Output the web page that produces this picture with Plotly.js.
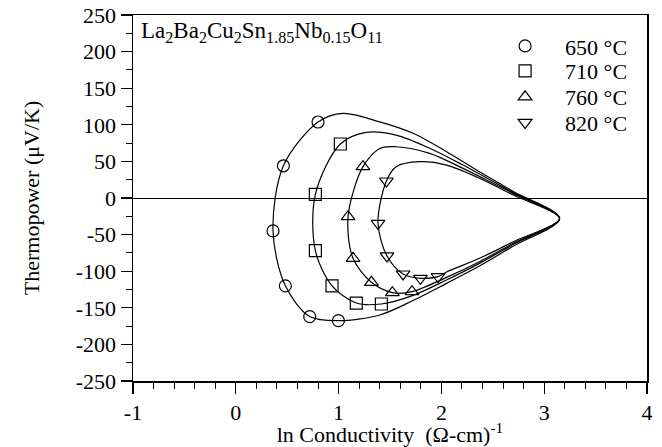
<!DOCTYPE html>
<html>
<head>
<meta charset="utf-8">
<script src="https://cdn.plot.ly/plotly-3.0.1.min.js"></script>
<style>html,body{margin:0;padding:0;background:#fff;}#chart{width:662px;height:447px;}</style>
</head>
<body>
<div id="chart"></div>
<script>
// Measured data points
const seriesNames = ["650 °C", "710 °C", "760 °C", "820 °C"];
const x650 = [0.80, 0.463, 0.362, 0.482, 0.719, 0.998];
const y650 = [103.8, 44, -45, -120, -162, -167.6];
const x710 = [1.017, 0.774, 0.774, 0.936, 1.172, 1.416];
const y710 = [73.8, 5, -72, -120, -143.5, -144.8];
const x760 = [1.237, 1.092, 1.14, 1.319, 1.523, 1.714];
const y760 = [42.8, -25.5, -82.4, -115.2, -129.3, -128];
const x820 = [1.465, 1.383, 1.471, 1.627, 1.796, 1.967];
const y820 = [23.2, -34.6, -79.2, -103.8, -109.7, -107.4];

// Fitted curve branches (upper: from tip leftwards; lower: rightwards to tip)
const tipX = [3.15];
const tipY = [-28];
const up650x = [2.70, 2.37, 2.05, 1.725, 1.40, 1.044];
const up650y = [8.7, 36, 63.3, 88.4, 104, 115.7];
const lo650x = [1.40, 1.725, 2.05, 2.37, 2.70];
const lo650y = [-159.8, -140, -116.6, -92.9, -65.6];
const up710x = [2.70, 2.535, 2.21, 1.886, 1.56, 1.27];
const up710y = [7, 20, 45, 68, 86, 89.7];
const lo710x = [1.725, 2.05, 2.37, 2.70];
const lo710y = [-133, -112, -89.3, -63.3];
const up760x = [2.70, 2.535, 2.21, 1.886, 1.56, 1.405];
const up760y = [6, 17.8, 40.5, 61, 70, 68];
const lo760x = [2.05, 2.37, 2.70];
const lo760y = [-108.4, -87, -61.9];
const up820x = [2.70, 2.37, 2.05, 1.79, 1.56];
const up820y = [4, 27, 45, 49.6, 42.8];
const lo820x = [2.05, 2.37, 2.70];
const lo820y = [-101, -82.4, -59.7];

// Tick labels
const xTickVals = [-1, 0, 1, 2, 3, 4];
const xTickText = ["-1", "0", "1", "2", "3", "4"];
const yTickVals = [250, 200, 150, 100, 50, 0, -50, -100, -150, -200, -250];
const yTickText = ["250", "200", "150", "100", "50", "0", "-50", "-100", "-150", "-200", "-250"];

const FONT = "Liberation Serif, Times New Roman, serif";
const FS = 22;
const symbols = ["circle-open", "square-open", "triangle-up-open", "triangle-down-open"];
const legendIds = ["legend", "legend2", "legend3", "legend4"];
const legendRowY = [0.915, 0.847, 0.776, 0.706];
const pts = [[x650, y650], [x710, y710], [x760, y760], [x820, y820]];
const curves = [
  [up650x, up650y, lo650x, lo650y],
  [up710x, up710y, lo710x, lo710y],
  [up760x, up760y, lo760x, lo760y],
  [up820x, up820y, lo820x, lo820y]
];

const traces = [];
curves.forEach((c, i) => {
  traces.push({
    x: tipX.concat(c[0], pts[i][0], c[2], tipX),
    y: tipY.concat(c[1], pts[i][1], c[3], tipY),
    mode: "lines", type: "scatter", showlegend: false, hoverinfo: "skip",
    line: {color: "#000", width: 1.2, shape: "spline", smoothing: 0.9}
  });
});
pts.forEach((p, i) => {
  traces.push({
    x: p[0], y: p[1], mode: "markers", type: "scatter", name: seriesNames[i],
    legend: legendIds[i],
    marker: {symbol: symbols[i], size: 12, color: "#000", line: {color: "#000", width: 1.2}},
    cliponaxis: false
  });
});

const layout = {
  width: 662, height: 447,
  margin: {l: 133, r: 15, t: 15, b: 66},
  paper_bgcolor: "#fff", plot_bgcolor: "#fff",
  font: {family: FONT, size: FS, color: "#000"},
  showlegend: true,
  xaxis: {
    range: [-1, 4], tickmode: "array", tickvals: xTickVals, ticktext: xTickText,
    ticks: "outside", ticklen: 11, tickwidth: 1.2, tickcolor: "#000",
    minor: {dtick: 0.2, ticks: "outside", ticklen: 6, tickwidth: 1, tickcolor: "#000", showgrid: false},
    showline: true, linecolor: "#000", linewidth: 1.5, mirror: true,
    showgrid: false, zeroline: false,
    tickfont: {family: FONT, size: FS, color: "#000"},
    title: {text: "ln Conductivity  (Ω-cm)<sup>-1</sup>", font: {family: FONT, size: FS, color: "#000"}, standoff: 0}
  },
  yaxis: {
    range: [-250, 250], tickmode: "array", tickvals: yTickVals, ticktext: yTickText,
    ticks: "outside", ticklen: 11, tickwidth: 1.2, tickcolor: "#000",
    minor: {dtick: 25, ticks: "outside", ticklen: 6, tickwidth: 1, tickcolor: "#000", showgrid: false},
    showline: true, linecolor: "#000", linewidth: 1.5, mirror: true,
    showgrid: false, zeroline: true, zerolinecolor: "#000", zerolinewidth: 1,
    tickfont: {family: FONT, size: FS, color: "#000"},
    title: {text: "Thermopower (μV/K)", font: {family: FONT, size: FS, color: "#000"}, standoff: 30}
  },
  annotations: [{
    xref: "paper", yref: "paper", x: 0.012, y: 0.997, xanchor: "left", yanchor: "top",
    showarrow: false,
    text: "La<sub>2</sub>Ba<sub>2</sub>Cu<sub>2</sub>Sn<sub>1.85</sub>Nb<sub>0.15</sub>O<sub>11</sub>",
    font: {family: FONT, size: 23, color: "#000"}
  }]
};
legendIds.forEach((id, i) => {
  layout[id] = {x: 0.685, y: legendRowY[i], xanchor: "left", yanchor: "middle",
    bgcolor: "rgba(0,0,0,0)", itemwidth: 70,
    font: {family: FONT, size: FS, color: "#000"}};
});

Plotly.newPlot("chart", traces, layout, {displayModeBar: false, staticPlot: true});
</script>
</body>
</html>
